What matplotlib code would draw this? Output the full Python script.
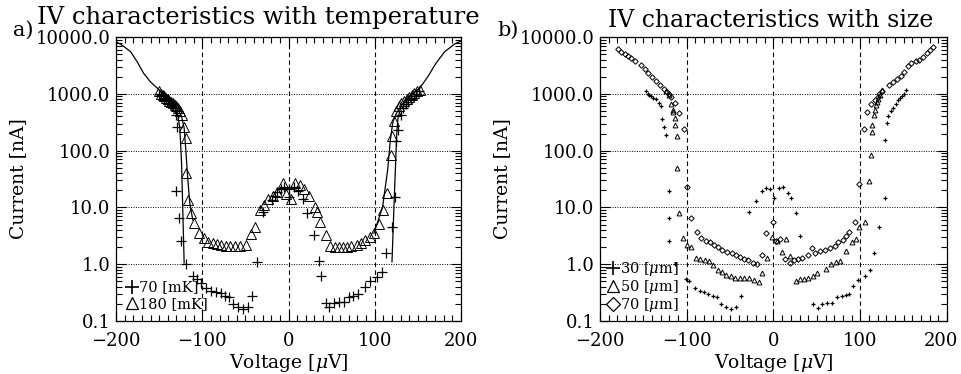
import matplotlib
matplotlib.use("Agg")
import matplotlib.pyplot as plt
from matplotlib.lines import Line2D
from matplotlib.transforms import ScaledTranslation
from matplotlib.ticker import FixedLocator, MultipleLocator, FixedFormatter, NullFormatter

plt.rcParams['font.family'] = ['DejaVu Serif']
plt.rcParams['mathtext.fontset'] = 'dejavuserif'

# ---- panel a: temperature ----
t70_v = [-150, -148, -146, -144, -142, -140, -138, -136, -134, -132, -131, -129, -130, -127, -124.4,
         -118.6, -111, -106, -101, -95.5, -90, -84.6, -78.8, -74, -69, -64.5, -58.7, -52.5, -46.8,
         -42, -36, -29, -19, -16, -12.8, -9, -5, 0, 1, 6, 11, 16.6, 22, 30, 35, 38, 43.7, 47.5, 53,
         59, 64, 70, 75, 81, 89, 94.7, 103, 108, 113, 120, 124, 125, 127, 130, 133, 136, 139, 142,
         145, 148, 151]
t70_i = [1000, 950, 900, 860, 820, 780, 740, 700, 640, 560, 420, 263, 19.5, 6.6, 2.6,
         1.0, 0.62, 0.56, 0.47, 0.38, 0.34, 0.32, 0.31, 0.28, 0.26, 0.20, 0.18, 0.16, 0.178,
         0.28, 1.08, 8.4, 13.5, 16, 19, 21, 23, 15, 21, 23, 19.5, 13.8, 8.0, 3.3, 1.16, 0.62, 0.21,
         0.178, 0.21, 0.215, 0.215, 0.26, 0.28, 0.30, 0.40, 0.50, 0.59, 0.73, 1.6, 4.6, 15, 150,
         230, 420, 560, 650, 730, 820, 900, 1000, 1100]

t180_v = [-150, -148, -146, -144, -142, -140, -138, -136, -134, -132, -130, -128, -126, -124,
          -121, -118.6, -118.6, -116, -113, -109, -103.5, -98, -93, -88, -83, -78, -73, -68,
          -62.5, -56.7, -49, -44, -39, -33.6, -28.6, -23.5, -18, -13, -6.6, -3, 3, 7, 13.5, 18.5,
          24, 31, 33.6, 36.7, 43, 48, 53.5, 58.5, 63, 68, 73, 79, 84, 89, 94, 99, 104.4, 109,
          114.4, 119, 119.5, 122, 125, 128, 131, 134, 137, 140, 143, 146, 149, 152]
t180_i = [1100, 1000, 950, 900, 850, 800, 760, 720, 680, 640, 600, 560, 500, 420,
          263, 164, 40, 13.5, 7.9, 5.4, 3.6, 2.86, 2.5, 2.4, 2.3, 2.2, 2.1, 2.1,
          2.1, 2.1, 2.2, 3.4, 4.6, 9.0, 11, 14, 16, 19, 27, 17, 14, 27, 25, 21,
          16, 10, 8.4, 5.6, 3.3, 2.1, 2.05, 2.0, 2.0, 2.05, 2.1, 2.2, 2.35, 2.7, 3.0, 3.5, 5.2, 9.0,
          17.7, 84, 180, 330, 500, 600, 680, 750, 820, 890, 950, 1020, 1100, 1180]

fit70_v = [-200, -193, -183, -175.5, -168, -160, -152, -143, -135, -129, -126, -124, -122.5, -121]
fit70_i = [8300, 7200, 5500, 3670, 2300, 1620, 1250, 900, 700, 480, 250, 60, 8, 1.05]
fit70r_v = [120, 122, 124, 125.5, 127, 131, 140, 152, 161.5, 171, 181, 193, 200]
fit70r_i = [1.1, 8, 50, 200, 380, 630, 900, 1250, 2000, 3450, 5500, 7600, 8500]

fit180_v = [-135, -129, -124, -121, -119, -117, -114.5, -111]
fit180_i = [700, 560, 400, 250, 100, 35, 12, 6]
fit180r_v = [99, 101.6, 109, 115, 118, 121, 125, 131]
fit180r_i = [3.5, 4.6, 10, 46, 150, 320, 450, 630]

# ---- panel b: size ----
s30_v = [-147.5, -145, -143, -141, -138.5, -136, -132, -130, -128.4, -125.7, -123.8,
         -120.7, -120.7, -120.7, -114, -101.4, -97, -91, -85, -80, -75, -70, -65.7, -60, -55,
         -49.5, -43, -37, -27.7, -20, -13.5, -8.5, -3.5, 1, 6, 10.5, 16.5, 20.5, 25.4, 31, 46,
         51, 55.7, 61.5, 67, 73, 78.6, 83.6, 86.7, 91.4, 97, 106, 110.7, 116.4, 122, 128, 129,
         130.6, 132, 135, 138, 141, 143.6, 146, 148, 150, 153]
s30_i = [1100, 1000, 950, 900, 850, 800, 700, 600, 355, 263, 186,
         19.5, 6.6, 2.6, 1.0, 0.55, 0.50, 0.38, 0.34, 0.32, 0.30, 0.28, 0.26, 0.20, 0.18,
         0.16, 0.175, 0.28, 8.4, 13, 19.5, 22, 21, 14.5, 22, 22.5, 18, 14.5, 8, 3.2, 0.2,
         0.17, 0.2, 0.21, 0.21, 0.26, 0.28, 0.29, 0.30, 0.42, 0.52, 0.62, 0.78, 1.6, 4.6, 14.5, 155,
         310, 400, 490, 570, 650, 780, 850, 920, 1000, 1180]

s50_v = [-123.7, -121, -118, -116, -116, -114, -113, -111.5, -111.5, -109, -104.6, -100, -95,
         -89, -84.4, -79.4, -74.4, -70, -64, -59, -54.5, -49.5, -44, -39, -33.6, -28.6, -22.7,
         -17, -13, -7, -2, 4, 9.6, 14.6, 19.6, 25.4, 31, 35, 39.6, 45, 50.7, 60, 66.5, 72, 77,
         83.8, 91, 95, 99, 105, 110, 112.6, 113.8, 114, 116, 117, 118, 119.5, 121, 123, 125]
s50_i = [1100, 950, 650, 520, 470, 380, 280, 180, 49, 8, 2.9, 2.2, 2.05,
         1.3, 1.25, 1.2, 1.15, 0.96, 0.80, 0.72, 0.65, 0.62, 0.58, 0.58, 0.57, 0.57, 0.52,
         0.48, 0.70, 1.3, 3.0, 2.6, 1.65, 2.8, 1.4, 0.51, 0.54, 0.56, 0.57, 0.62, 0.70, 0.82, 1.0,
         1.1, 1.15, 1.7, 2.5, 2.8, 4.6, 5.6, 29, 83, 215, 280, 420, 520, 630, 720, 820, 950, 1150]

s70_v = [-179.5, -175.6, -171.7, -168, -164, -160, -152.5, -148.7, -145, -140, -135.4, -130.8,
         -126.5, -122.7, -120, -118, -113, -108.4, -103.7, -100, -95, -88.4, -83.3, -78, -73.3,
         -68.4, -63.8, -58.8, -53.4, -48.4, -43.4, -38.8, -34, -29, -24, -19.5, -13.5, -8.5, 0,
         3, 7, 12.7, 19.6, 24.2, 28, 32.5, 39.6, 44.6, 48, 54, 59, 64.8, 70.6, 74.4, 79.6, 84,
         87.6, 93.4, 99, 104, 108, 112.5, 117.5, 120, 122, 125.3, 133, 137.5, 142, 147.4, 151,
         155, 159, 164, 168, 172, 176.6, 180.4, 183.5]
s70_i = [6200, 5500, 5100, 4700, 4300, 3800, 3240, 2700, 2300, 1950, 1660, 1410,
         1230, 1070, 980, 870, 690, 460, 240, 23, 6.6, 3.7, 2.9, 2.6, 2.45,
         2.15, 2.0, 1.8, 1.66, 1.55, 1.45, 1.35, 1.23, 1.17, 1.07, 1.0, 1.45, 3.5, 5.6,
         2.6, 2.8, 1.23, 1.07, 1.2, 1.22, 1.3, 1.45, 1.95, 1.6, 1.7, 1.8, 1.9, 2.1, 2.5, 2.7, 3.1,
         3.7, 5.5, 26, 240, 470, 660, 780, 870, 1000, 1120, 1410, 1620, 1820, 2040, 2450,
         3090, 3470, 3800, 3980, 4470, 5130, 5890, 6600]

xticks = [-200, -100, 0, 100, 200]
yticks = [0.1, 1.0, 10.0, 100.0, 1000.0, 10000.0]
ytick_labels = ['%.1f' % y for y in yticks]

fig = plt.figure(figsize=(9.62, 3.74), dpi=100)
ax_a = fig.add_axes([0.1206, 0.1417, 0.3586, 0.7593])
ax_b = fig.add_axes([0.6237, 0.1417, 0.3607, 0.7593])


def style_axes(ax):
    ax.set_yscale('log')
    ax.set_xlim(-200, 200)
    ax.set_ylim(0.1, 10000)
    ax.xaxis.set_major_locator(FixedLocator(xticks))
    ax.xaxis.set_minor_locator(MultipleLocator(10))
    ax.yaxis.set_major_locator(FixedLocator(yticks))
    ax.yaxis.set_major_formatter(FixedFormatter(ytick_labels))
    ax.yaxis.set_minor_formatter(NullFormatter())
    ax.tick_params(which='both', direction='in', top=True, right=True, width=0.8, labelsize=13)
    ax.tick_params(axis='x', pad=8)
    ax.tick_params(axis='y', pad=4)
    ax.tick_params(which='major', length=7)
    ax.tick_params(which='minor', length=4)
    for s in ax.spines.values():
        s.set_linewidth(0.9)
    for x in [-100, 0, 100]:
        ax.axvline(x, color='black', lw=0.8, ls=(0, (4, 3)), zorder=1)
    for y in [1, 10, 100, 1000]:
        ax.axhline(y, color='black', lw=0.7, ls=(0, (1, 1.5)), zorder=1)
    ax.set_xlabel(r'Voltage [$\mu$V]', fontsize=13.5, labelpad=1)
    ax.set_ylabel('Current [nA]', fontsize=13.5, labelpad=6)


style_axes(ax_a)
style_axes(ax_b)

# panel a
for v, i in [(fit70_v, fit70_i), (fit70r_v, fit70r_i), (fit180_v, fit180_i), (fit180r_v, fit180r_i)]:
    ax_a.plot(v, i, color='black', lw=0.9, zorder=2)
ax_a.plot(t70_v, t70_i, ls='none', marker='+', ms=7, mew=0.9, color='black', zorder=3)
ax_a.plot(t180_v, t180_i, ls='none', marker='^', ms=7, mew=0.7, mfc='none', mec='black', zorder=3)

# panel b
ax_b.plot(s30_v, s30_i, ls='none', marker='+', ms=3.5, mew=0.9, color='black', zorder=3)
ax_b.plot(s50_v, s50_i, ls='none', marker='^', ms=3.5, mew=0.7, mfc='none', mec='black', zorder=3)
ax_b.plot(s70_v, s70_i, ls='none', marker='D', ms=2.8, mew=0.7, mfc='none', mec='black', zorder=3)

leg_a = [Line2D([], [], ls='none', marker='+', ms=10, mew=1.2, color='black', label='70 [mK]'),
         Line2D([], [], ls='none', marker='^', ms=9, mew=0.9, mfc='none', mec='black', label='180 [mK]')]
ax_a.legend(handles=leg_a, loc='lower left', frameon=False, fontsize=10.5, handlelength=0.8,
            handletextpad=0.05, labelspacing=0.15, borderaxespad=0.5, borderpad=0.2)

leg_b = [Line2D([], [], ls='none', marker='+', ms=10, mew=1.2, color='black', label=r'30 [$\mu$m]'),
         Line2D([], [], ls='none', marker='^', ms=9, mew=0.9, mfc='none', mec='black', label=r'50 [$\mu$m]'),
         Line2D([], [], ls='none', marker='D', ms=7.5, mew=0.9, mfc='none', mec='black', label=r'70 [$\mu$m]')]
ax_b.legend(handles=leg_b, loc='lower left', frameon=False, fontsize=10.5, handlelength=0.8,
            handletextpad=0.05, labelspacing=0.0, borderaxespad=0.3, borderpad=0.2)

fig.text(0.013, 0.905, 'a)', fontsize=15)
fig.text(0.038, 0.935, 'IV characteristics with temperature', fontsize=17.5)
fig.text(0.517, 0.905, 'b)', fontsize=15)
fig.text(0.801, 0.927, 'IV characteristics with size', fontsize=17, ha='center')

# nudge the last x label of panel b so it stays inside the figure, as in the original
fig.canvas.draw()
last = ax_b.get_xticklabels()[-1]
last.set_transform(last.get_transform() + ScaledTranslation(-0.06, 0, fig.dpi_scale_trans))

fig.savefig('out.png', dpi=100)
